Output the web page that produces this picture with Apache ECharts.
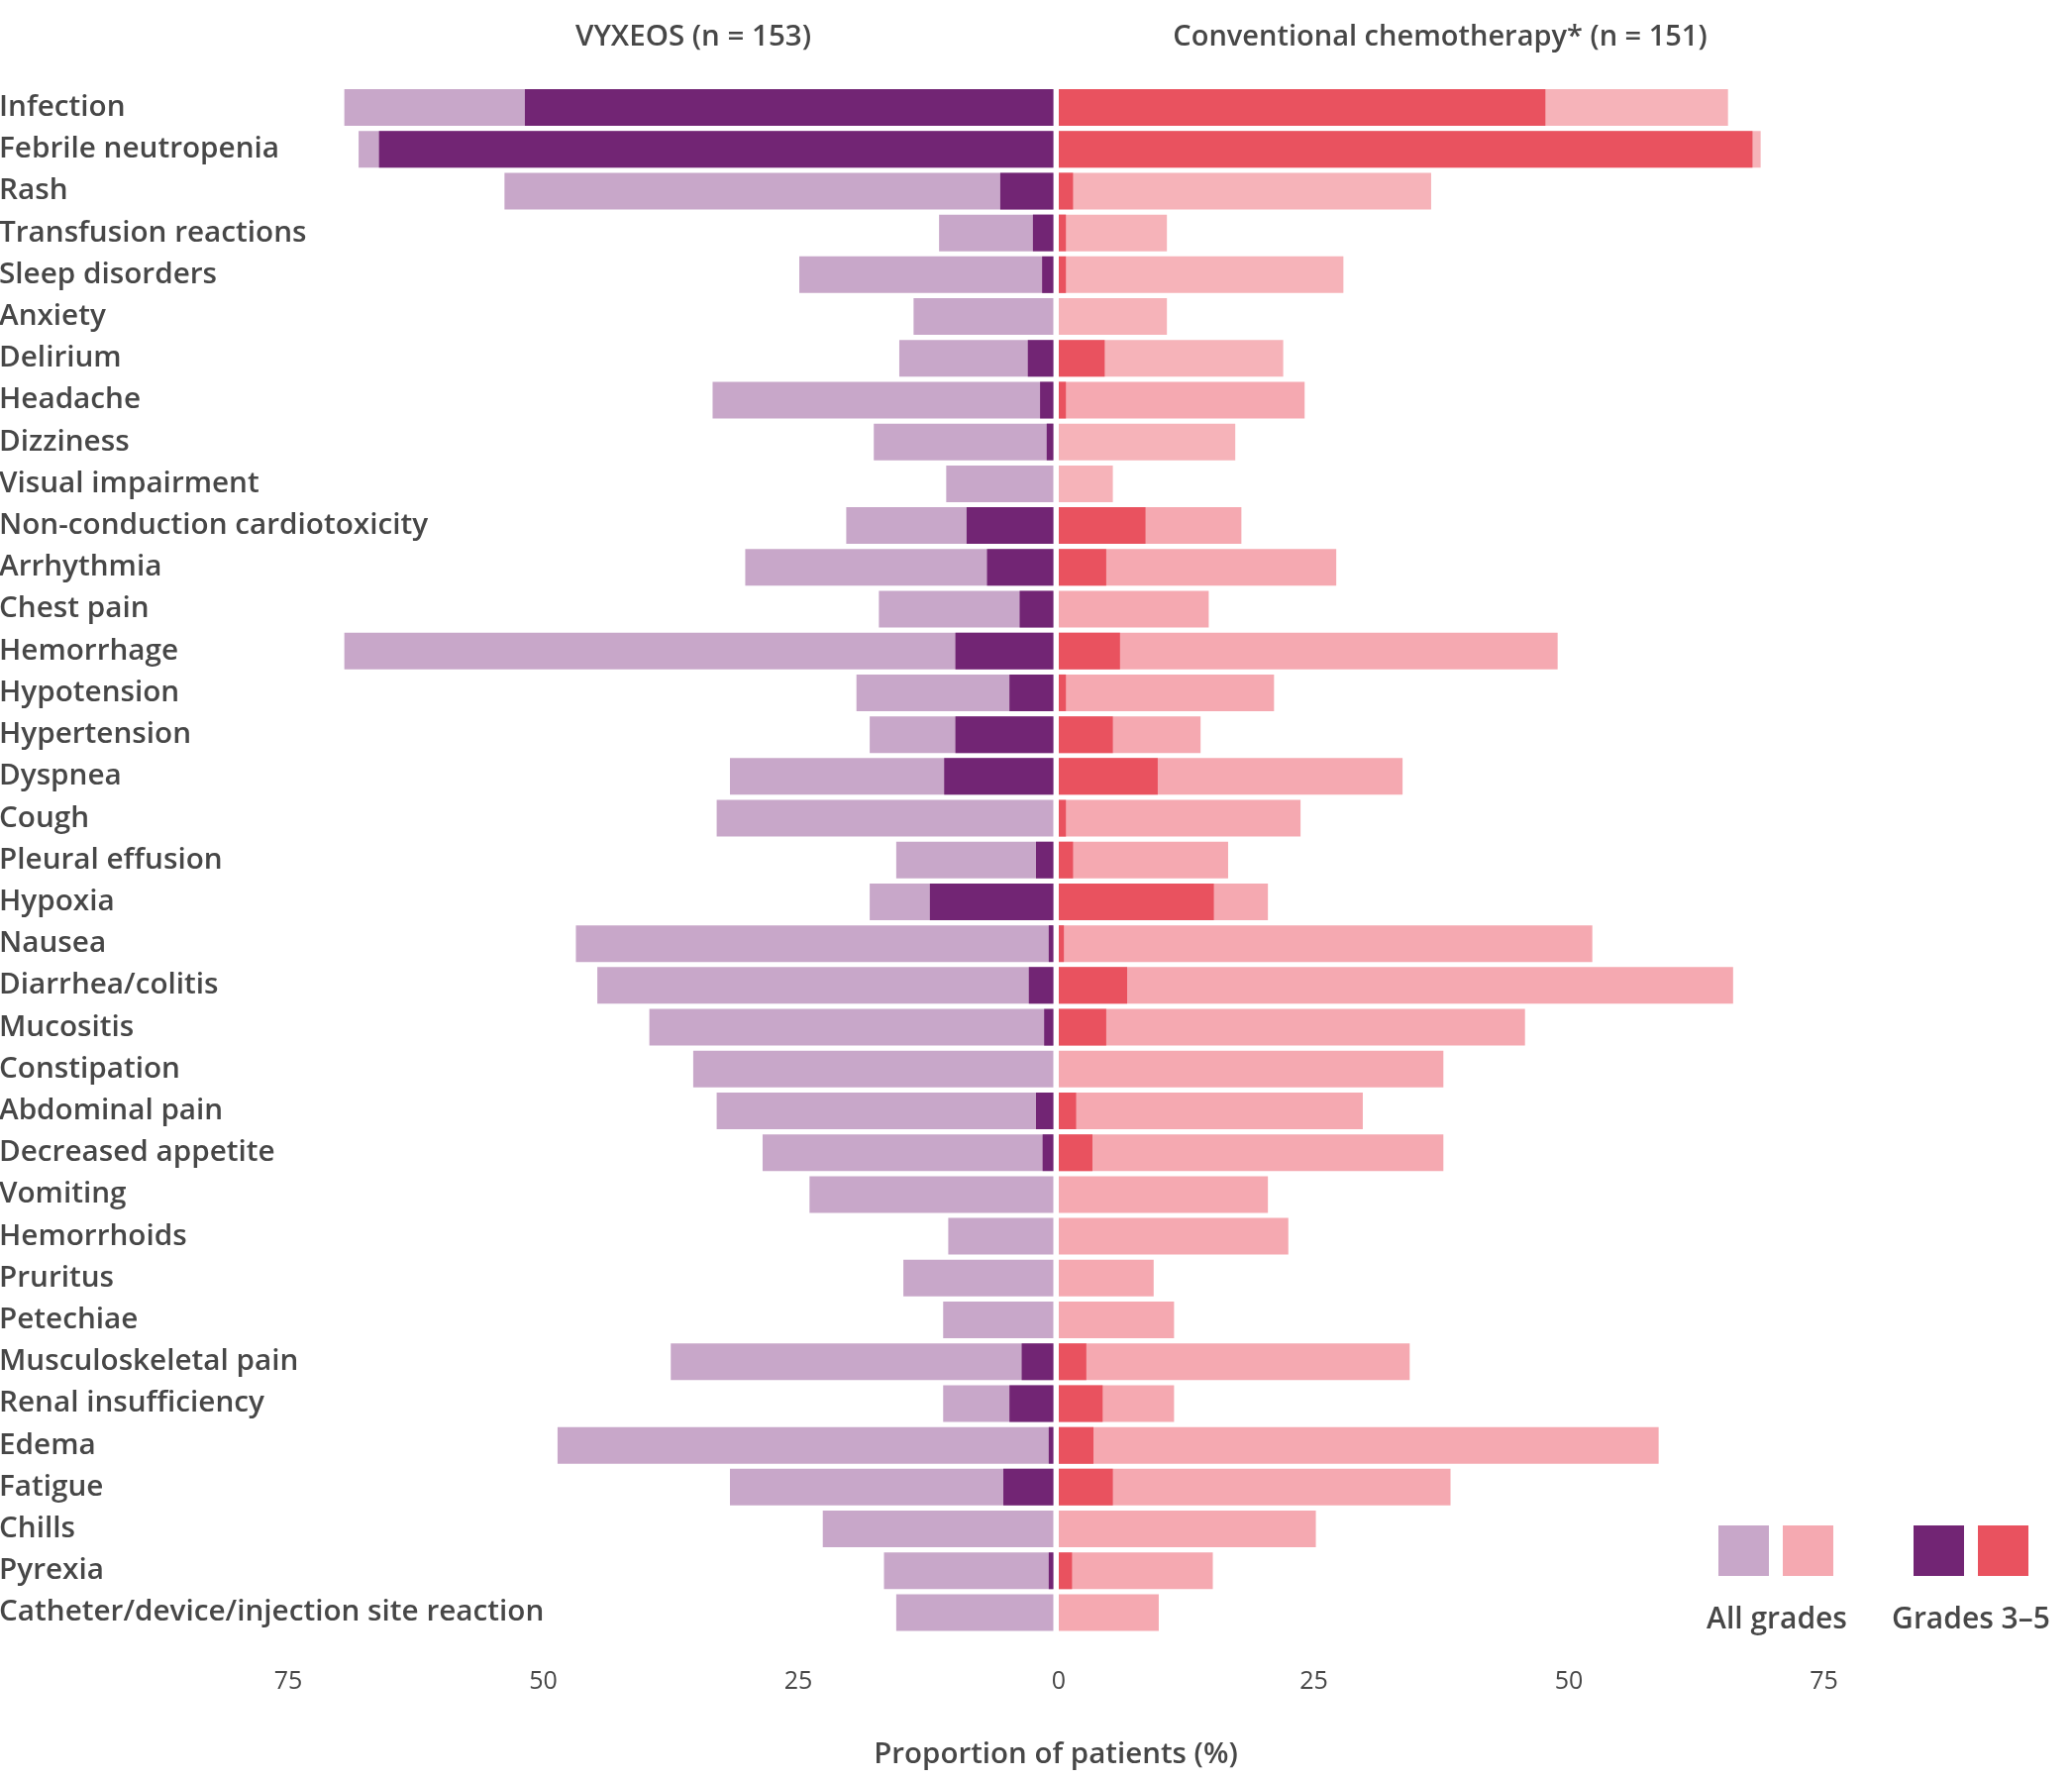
<!DOCTYPE html>
<html>
<head>
<meta charset="utf-8">
<script src="https://cdn.jsdelivr.net/npm/echarts@6/dist/echarts.min.js"></script>
<style>
html,body{margin:0;padding:0;background:#fff;}
#chart{width:2092px;height:1797px;}
</style>
</head>
<body>
<div id="chart"></div>
<script>
const categories = ['Infection','Febrile neutropenia','Rash','Transfusion reactions','Sleep disorders','Anxiety','Delirium','Headache','Dizziness','Visual impairment','Non-conduction cardiotoxicity','Arrhythmia','Chest pain','Hemorrhage','Hypotension','Hypertension','Dyspnea','Cough','Pleural effusion','Hypoxia','Nausea','Diarrhea/colitis','Mucositis','Constipation','Abdominal pain','Decreased appetite','Vomiting','Hemorrhoids','Pruritus','Petechiae','Musculoskeletal pain','Renal insufficiency','Edema','Fatigue','Chills','Pyrexia','Catheter/device/injection site reaction'];

const vyxeosAllGrades = [69.5,68.1,53.8,11.2,24.9,13.7,15.1,33.4,17.6,10.5,20.3,30.2,17.1,69.5,19.3,18.0,31.7,33.0,15.4,18.0,46.8,44.7,39.6,35.3,33.0,28.5,23.9,10.3,14.7,10.8,37.5,10.8,48.6,31.7,22.6,16.6,15.4];
const vyxeosGrades35 = [51.8,66.1,5.2,2.0,1.1,0,2.5,1.3,0.65,0,8.5,6.5,3.3,9.6,4.3,9.6,10.7,0,1.7,12.1,0.45,2.4,0.9,0,1.7,1.05,0,0,0,0,3.1,4.3,0.45,4.9,0,0.45,0];

const convAllGrades = [65.6,68.8,36.5,10.6,27.9,10.6,22.0,24.1,17.3,5.3,17.9,27.2,14.7,48.9,21.1,13.9,33.7,23.7,16.6,20.5,52.3,66.1,45.7,37.7,29.8,37.7,20.5,22.5,9.3,11.3,34.4,11.3,58.8,38.4,25.2,15.1,9.8];
const convGrades35 = [47.7,68.0,1.4,0.7,0.7,0,4.5,0.7,0,0,8.5,4.65,0,6.0,0.7,5.3,9.7,0.7,1.4,15.2,0.5,6.7,4.65,0,1.7,3.3,0,0,0,0,2.7,4.3,3.4,5.3,0,1.3,0];

const axisMax = 75;
const axisInterval = 25;

const C_LPURPLE = '#c8a7c9', C_DPURPLE = '#722574', C_LPINK = '#f5a9b1', C_LPINK2 = '#f6b3b9', C_RED = '#e9525f';
const lighterPinkRows = new Set([0, 1, 2, 3, 4, 5, 6, 8, 9]);
const TXT = '#474747';
const FONT = "'Open Sans', 'Noto Sans', sans-serif";

const chart = echarts.init(document.getElementById('chart'));
const gridTop = 87.4, gridH = 1561.7, scaleW = 772.5;

const titleStyle = (size, weight) => ({color: TXT, fontFamily: FONT, fontSize: size, fontWeight: weight});

chart.setOption({
  animation: false,
  backgroundColor: '#ffffff',
  title: [
    {text: 'VYXEOS (n = 153)', left: 700, top: 38, textAlign: 'center', textVerticalAlign: 'middle', padding: 0, textStyle: titleStyle(29.5, 600)},
    {text: 'Conventional chemotherapy* (n = 151)', left: 1454, top: 38, textAlign: 'center', textVerticalAlign: 'middle', padding: 0, textStyle: titleStyle(29, 600)},
    {text: 'Proportion of patients (%)', left: 1066, top: 1772, textAlign: 'center', textVerticalAlign: 'middle', padding: 0, textStyle: titleStyle(29.5, 600)},
    {text: 'All grades', left: 1794, top: 1635, textAlign: 'center', textVerticalAlign: 'middle', padding: 0, textStyle: titleStyle(30, 600)},
    {text: 'Grades 3–5', left: 1990, top: 1635, textAlign: 'center', textVerticalAlign: 'middle', padding: 0, textStyle: titleStyle(30, 600)}
  ],
  legend: [
    {data: [{name: 'VYXEOS all grades', itemStyle: {color: C_LPURPLE}}, {name: 'Conventional all grades', itemStyle: {color: C_LPINK}}],
     left: 1735, top: 1540, padding: 0, itemWidth: 51, itemHeight: 51, itemGap: 14, icon: 'rect', formatter: () => '', selectedMode: false},
    {data: [{name: 'VYXEOS grades 3–5', itemStyle: {color: C_DPURPLE}}, {name: 'Conventional grades 3–5', itemStyle: {color: C_RED}}],
     left: 1932, top: 1540, padding: 0, itemWidth: 51, itemHeight: 51, itemGap: 14, icon: 'rect', formatter: () => '', selectedMode: false}
  ],
  grid: [
    {left: 1063.5 - scaleW, width: scaleW, top: gridTop, height: gridH, containLabel: false, outerBoundsMode: 'none'},
    {left: 1069, width: scaleW, top: gridTop, height: gridH, containLabel: false, outerBoundsMode: 'none'}
  ],
  xAxis: [
    {gridIndex: 0, type: 'value', min: 0, max: axisMax, interval: axisInterval, inverse: true,
     splitLine: {show: false}, axisLine: {show: false}, axisTick: {show: false},
     axisLabel: {margin: 36, color: TXT, fontFamily: FONT, fontSize: 25, fontWeight: 400, formatter: v => v === 0 ? '' : String(v)}},
    {gridIndex: 1, type: 'value', min: 0, max: axisMax, interval: axisInterval,
     splitLine: {show: false}, axisLine: {show: false}, axisTick: {show: false},
     axisLabel: {margin: 36, color: TXT, fontFamily: FONT, fontSize: 25, fontWeight: 400}}
  ],
  yAxis: [
    {gridIndex: 0, type: 'category', data: categories, inverse: true, position: 'left',
     axisLine: {show: false, onZero: false}, axisTick: {show: false}, splitLine: {show: false},
     axisLabel: {align: 'left', margin: 1063.5 - scaleW + 1, color: TXT, fontFamily: FONT, fontSize: 29.7, fontWeight: 600, interval: 0}},
    {gridIndex: 1, type: 'category', data: categories, inverse: true, show: false}
  ],
  series: [
    {name: 'VYXEOS all grades', type: 'bar', xAxisIndex: 0, yAxisIndex: 0, data: vyxeosAllGrades, barWidth: 37, barGap: '-100%', itemStyle: {color: C_LPURPLE}, z: 2},
    {name: 'VYXEOS grades 3–5', type: 'bar', xAxisIndex: 0, yAxisIndex: 0, data: vyxeosGrades35, barWidth: 37, barGap: '-100%', itemStyle: {color: C_DPURPLE}, z: 3},
    {name: 'Conventional all grades', type: 'bar', xAxisIndex: 1, yAxisIndex: 1, data: convAllGrades, barWidth: 37, barGap: '-100%',
     itemStyle: {color: p => lighterPinkRows.has(p.dataIndex) ? C_LPINK2 : C_LPINK}, z: 2},
    {name: 'Conventional grades 3–5', type: 'bar', xAxisIndex: 1, yAxisIndex: 1, data: convGrades35, barWidth: 37, barGap: '-100%', itemStyle: {color: C_RED}, z: 3}
  ]
});
</script>
</body>
</html>
